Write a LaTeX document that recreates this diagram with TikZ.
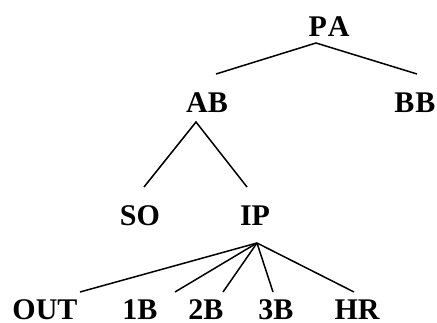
\documentclass[tikz,border=0pt]{standalone}
\usepackage{fontspec}
\setmainfont{Liberation Serif}
\begin{document}
\begin{tikzpicture}[x=1pt,y=-1pt,
  lbl/.style={inner sep=0pt,anchor=base,font=\fontsize{30}{32}\selectfont\bfseries},
  edge/.style={line width=1.5pt}]
\useasboundingbox (0,0) rectangle (437,323);
% labels
\node[lbl] (PA) at (329,37) {P\kern1pt A};
\node[lbl] (AB) at (207,113) {AB};
\node[lbl] (BB) at (415,113) {B\kern1pt B};
\node[lbl] (SO) at (140,226) {SO};
\node[lbl] (IP) at (255,226) {IP};
\node[lbl] (OUT) at (45,319.5) {OUT};
\node[lbl] (B1) at (140,319.5) {1B};
\node[lbl] (B2) at (206,319.5) {2B};
\node[lbl] (B3) at (276,319.5) {3B};
\node[lbl] (HR) at (357,319.5) {HR};
% branch points
\coordinate (PAr) at (316,43);
\coordinate (ABt) at (216,74);
\coordinate (BBt) at (417,74);
\coordinate (ABr) at (196,122);
\coordinate (SOt) at (144,187);
\coordinate (IPt) at (247,187);
\coordinate (IPr) at (257,243);
\coordinate (OUTt) at (80,292);
\coordinate (B1t) at (175,292);
\coordinate (B2t) at (223,292);
\coordinate (B3t) at (273,292);
\coordinate (HRt) at (354,292);
% edges
\draw[edge] (ABt) -- (PAr) -- (BBt);
\draw[edge] (SOt) -- (ABr) -- (IPt);
\draw[edge] (IPr) -- (OUTt);
\draw[edge] (IPr) -- (B1t);
\draw[edge] (IPr) -- (B2t);
\draw[edge] (IPr) -- (B3t);
\draw[edge] (IPr) -- (HRt);
\end{tikzpicture}
\end{document}
